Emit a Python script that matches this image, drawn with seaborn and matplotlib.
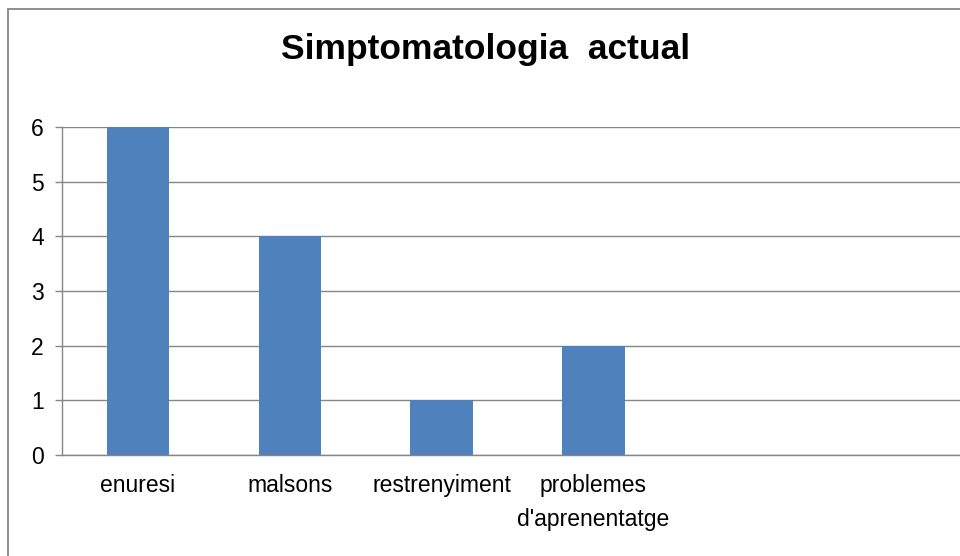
import matplotlib
matplotlib.use("Agg")
import matplotlib.pyplot as plt
import matplotlib.patches as mpatches
import seaborn as sns
import pandas as pd
import numpy as np

categories = ["enuresi", "malsons", "restrenyiment", "problemes\nd'aprenentatge"]
values = [6, 4, 1, 2]
n_slots = 6
y_ticks = [0, 1, 2, 3, 4, 5, 6]
title = "Simptomatologia  actual"

sns.set_theme(style="white")
plt.rcParams["font.family"] = ["Liberation Sans", "DejaVu Sans"]

grey = "#868686"
bar_color = "#4F81BD"

fig = plt.figure(figsize=(9.6, 5.56), dpi=100)
ax = fig.add_axes([62 / 960, 101 / 556, 911 / 960, 328 / 556])

df = pd.DataFrame({"cat": categories, "val": values})
sns.barplot(data=df, x="cat", y="val", order=categories, color=bar_color,
            saturation=1, width=0.41, linewidth=0, ax=ax, zorder=3)

ax.set_xlim(-0.5, n_slots - 0.5)
ax.set_ylim(0, 6)
ax.set_xlabel("")
ax.set_ylabel("")

# category labels centred in their slots, tick marks on the slot boundaries
ax.set_xticks(range(len(categories)))
ax.set_xticklabels(categories, fontsize=16.5, color="black", linespacing=1.6)
ax.set_xticks(np.arange(-0.5, n_slots, 1.0), minor=True)
ax.tick_params(axis="x", which="major", length=0, pad=14)
ax.tick_params(axis="x", which="minor", length=7, width=1, color=grey, direction="out")

ax.set_yticks(y_ticks)
ax.set_yticklabels([str(t) for t in y_ticks], fontsize=16.5, color="black")
ax.tick_params(axis="y", which="major", length=5, width=1, color=grey, direction="out", pad=8, left=True)

ax.grid(axis="y", color=grey, linewidth=1, zorder=0)
ax.set_axisbelow(True)

for side in ["top", "right"]:
    ax.spines[side].set_visible(False)
for side in ["left", "bottom"]:
    ax.spines[side].set_color(grey)
    ax.spines[side].set_linewidth(1)
    ax.spines[side].set_zorder(4)

fig.text(486 / 960, 1 - 49 / 556, title, ha="center", va="center",
         fontsize=25.5, fontweight="bold", color="black")

# chart-area border
border = mpatches.Rectangle((7.5 / 960, -0.2), 2.0, 1.2 - 9.0 / 556,
                            transform=fig.transFigure, fill=False,
                            edgecolor=grey, linewidth=1.3)
fig.add_artist(border)

fig.savefig("out.png", dpi=100, facecolor="white")
